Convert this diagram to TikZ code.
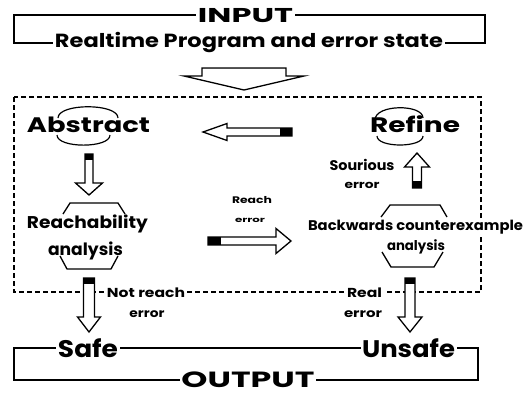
\documentclass[tikz,border=0pt]{standalone}
\usepackage{fontspec}
\setmainfont{Poppins}
\usetikzlibrary{calc}
\newcommand\wtxt[3]{{\fontsize{#1}{#1}\selectfont\bfseries\resizebox{#2}{\height}{#3}}}
\newcommand\harrow[7]{%
  \coordinate (#7h) at ($(#2)!#5!(#1)$);
  \coordinate (#7t) at ($(#1)!#6!(#2)$);
  \draw[harrowline] ($(#1)!#3!90:(#2)$) -- ($(#7h)!#3!90:(#2)$) -- ($(#7h)!#4!90:(#2)$) -- (#2)
    -- ($(#7h)!#4!-90:(#2)$) -- ($(#7h)!#3!-90:(#2)$) -- ($(#1)!#3!-90:(#2)$) -- cycle;
  \fill ($(#1)!#3!90:(#2)$) -- ($(#7t)!#3!90:(#2)$) -- ($(#7t)!#3!-90:(#2)$) -- ($(#1)!#3!-90:(#2)$) -- cycle;
}
\begin{document}
\begin{tikzpicture}[x=1pt,y=-1pt,
  box/.style={draw=black,line width=1.3pt},
  dashbox/.style={draw=black,line width=1.1pt,dash pattern=on 5pt off 3pt},
  harrowline/.style={draw=black,fill=white,line width=1.3pt,line join=miter},
  hexline/.style={draw=black,line width=1.3pt,line join=round},
  arcline/.style={draw=black,line width=1.2pt},
  lbl/.style={anchor=base,inner sep=0pt,text=black},
  onl/.style={lbl,fill=white,inner xsep=1.5pt,inner ysep=0.5pt}]
\useasboundingbox (0,0) rectangle (530,394);
\fill[white] (0,0) rectangle (530,394);

% input box
\draw[box] (14,15) rectangle (485,43);
\node[onl] (inp) at (245.5,22) {\wtxt{20}{95pt}{INPUT}};
\node[onl] (rt) at (249,47) {\wtxt{19}{388pt}{Realtime Program and error state}};

% big arrow
\coordinate (a1s) at (244,68);
\coordinate (a1e) at (244,90);
\harrow{a1s}{a1e}{42pt}{60pt}{14pt}{0pt}{a1}

% dashed region
\draw[dashbox] (14,97) rectangle (481,292);

% Abstract
\draw[arcline] (58,118) .. controls (58,103) and (118,103) .. (118,118);
\draw[arcline] (57,135) .. controls (57,148.5) and (110,148.5) .. (110,135);
\node[lbl] (abs) at (88.5,132) {\wtxt{21}{123pt}{Abstract}};

% Refine
\draw[arcline] (375,120) .. controls (375,104) and (423,104) .. (423,118);
\draw[arcline] (377,136) .. controls (377,148) and (423,148) .. (423,136);
\node[lbl] (ref) at (415,132) {\wtxt{21}{90pt}{Refine}};

% hexagons
\draw[hexline] (63,214) -- (70,203) -- (118,203) -- (125,214);
\draw[hexline] (60,256) -- (67,269) -- (111,269) -- (118,256);
\draw[hexline] (381,217) -- (390,205) -- (440,205) -- (447,217);
\draw[hexline] (382,252) -- (391,267) -- (434,267) -- (443,252);

\node[lbl] (reach) at (87.5,228) {\wtxt{17}{121pt}{Reachability}};
\node[lbl] (reach2) at (85.5,255) {\wtxt{17}{75pt}{analysis}};
\node[lbl,fill=white] (back) at (415.5,230) {\wtxt{14}{215pt}{Backwards counterexample}};
\node[lbl] (back2) at (416,250) {\wtxt{13.5}{58pt}{analysis}};

% arrows
\coordinate (a2s) at (292,132); \coordinate (a2e) at (203,132);
\harrow{a2s}{a2e}{4pt}{8.5pt}{24pt}{12pt}{a2}
\coordinate (a3s) at (89,154); \coordinate (a3e) at (89,195);
\harrow{a3s}{a3e}{4pt}{13.5pt}{12pt}{6pt}{a3}
\coordinate (a4s) at (208,241); \coordinate (a4e) at (291,241);
\harrow{a4s}{a4e}{4pt}{12.5pt}{15pt}{13pt}{a4}
\coordinate (a5s) at (417,188); \coordinate (a5e) at (417,153);
\harrow{a5s}{a5e}{4.5pt}{12.5pt}{14pt}{7pt}{a5}
\coordinate (a6s) at (89,278); \coordinate (a6e) at (89,332);
\harrow{a6s}{a6e}{5.5pt}{11.5pt}{15pt}{6pt}{a6}
\coordinate (a7s) at (410,278); \coordinate (a7e) at (410,332);
\harrow{a7s}{a7e}{5pt}{12pt}{15pt}{6pt}{a7}

% small labels
\node[lbl] (sp1) at (362,170) {\wtxt{14}{65pt}{Sourious}};
\node[lbl] (sp2) at (362,188) {\wtxt{11}{35pt}{error}};
\node[lbl] (re1) at (252,203) {\wtxt{9.5}{40pt}{Reach}};
\node[lbl] (re2) at (250,222) {\wtxt{7.5}{30pt}{error}};
\node[onl] (nr1) at (146,297) {\wtxt{13}{78pt}{Not reach}};
\node[lbl] (nr2) at (147,317) {\wtxt{12}{35pt}{error}};
\node[onl] (rl1) at (364.5,297) {\wtxt{13}{35pt}{Real}};
\node[lbl] (rl2) at (363,317) {\wtxt{12}{38pt}{error}};

% output box
\draw[box] (14,348) rectangle (478,380);
\node[onl] (safe) at (88,357) {\wtxt{24}{60pt}{Safe}};
\node[onl] (unsafe) at (408.5,357) {\wtxt{24}{93pt}{Unsafe}};
\node[onl] (out) at (248,387) {\wtxt{22}{133pt}{OUTPUT}};
\end{tikzpicture}
\end{document}
